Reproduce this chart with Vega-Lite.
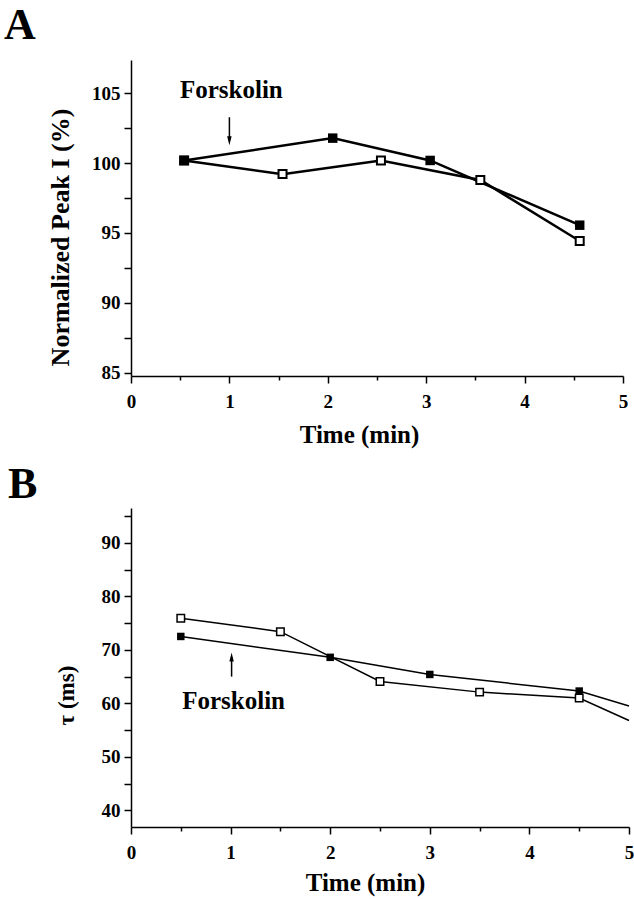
{
  "$schema": "https://vega.github.io/schema/vega-lite/v6.json",
  "padding": {"left": 4, "top": 4, "right": 5, "bottom": 5},
  "background": "white",
  "spacing": 16,
  "config": {
    "view": {"stroke": null},
    "font": "Liberation Serif",
    "axis": {
      "domainColor": "black", "domainWidth": 1.5, "tickColor": "black", "tickWidth": 1.5, "grid": false,
      "labelFont": "Liberation Serif", "labelFontWeight": "bold", "labelColor": "black", "labelFontSize": 19,
      "titleFont": "Liberation Serif", "titleFontWeight": "bold", "titleColor": "black",
      "labelOverlap": false, "labelFlush": false
    },
    "title": {"font": "Liberation Serif", "fontWeight": "bold", "color": "black", "anchor": "start", "frame": "group"}
  },
  "datasets": {
    "main": [
      {"panel": "A", "series": "a", "t": 0.54, "v": 100.2},
      {"panel": "A", "series": "a", "t": 2.05, "v": 101.8},
      {"panel": "A", "series": "a", "t": 3.04, "v": 100.2},
      {"panel": "A", "series": "a", "t": 4.56, "v": 95.56},
      {"panel": "A", "series": "b", "t": 0.54, "v": 100.2},
      {"panel": "A", "series": "b", "t": 1.54, "v": 99.22},
      {"panel": "A", "series": "b", "t": 2.54, "v": 100.2},
      {"panel": "A", "series": "b", "t": 3.55, "v": 98.8},
      {"panel": "A", "series": "b", "t": 4.56, "v": 94.43},
      {"panel": "B", "series": "a", "t": 0.5, "v": 72.5},
      {"panel": "B", "series": "a", "t": 2.0, "v": 68.6},
      {"panel": "B", "series": "a", "t": 3.0, "v": 65.4},
      {"panel": "B", "series": "a", "t": 4.5, "v": 62.3},
      {"panel": "B", "series": "a", "t": 5.0, "v": 59.5},
      {"panel": "B", "series": "b", "t": 0.5, "v": 75.9},
      {"panel": "B", "series": "b", "t": 1.5, "v": 73.4},
      {"panel": "B", "series": "b", "t": 2.5, "v": 64.1},
      {"panel": "B", "series": "b", "t": 3.5, "v": 62.1},
      {"panel": "B", "series": "b", "t": 4.5, "v": 61.0},
      {"panel": "B", "series": "b", "t": 5.0, "v": 56.8}
    ],
    "arrows": [
      {"panel": "A", "t": 1.0, "v": 103.3, "v2": 101.62},
      {"panel": "B", "t": 1.01, "v": 65.0, "v2": 68.66}
    ],
    "labels": [
      {"panel": "A", "t": 1.02, "v": 104.68, "label": "Forskolin"},
      {"panel": "B", "t": 1.03, "v": 59.0, "label": "Forskolin"}
    ]
  },
  "vconcat": [
    {
      "title": {"text": "A", "fontSize": 44, "dx": -127, "dy": 50, "baseline": "alphabetic", "offset": 27},
      "width": 492,
      "height": 316,
      "encoding": {
        "x": {
          "field": "t", "type": "quantitative",
          "scale": {"domain": [0, 5], "nice": false, "zero": false},
          "axis": {
            "values": [0, 0.5, 1, 1.5, 2, 2.5, 3, 3.5, 4, 4.5, 5],
            "labelExpr": "datum.value % 1 === 0 ? format(datum.value, 'd') : ''",
            "tickSize": {"condition": {"test": "datum.value % 1 !== 0", "value": 4}, "value": 7},
            "labelPadding": 9,
            "title": "Time (min)", "titleFontSize": 25, "titleX": 228, "titleY": 66,
            "titleBaseline": "alphabetic", "titleAlign": "center"
          }
        },
        "y": {
          "field": "v", "type": "quantitative",
          "scale": {"domain": [84.75, 107.4], "nice": false, "zero": false},
          "axis": {
            "values": [85, 87.5, 90, 92.5, 95, 97.5, 100, 102.5, 105],
            "labelExpr": "datum.value % 5 === 0 ? format(datum.value, 'd') : ''",
            "tickSize": 7, "labelPadding": 4,
            "title": "Normalized Peak I (%)", "titleFontSize": 26, "titleX": -63, "titleY": 177,
            "titleAngle": -90, "titleBaseline": "alphabetic", "titleAlign": "center"
          }
        }
      },
      "layer": [
        {
          "data": {"name": "main"},
          "transform": [{"filter": "datum.panel === 'A'"}],
          "mark": {"type": "line", "color": "black", "strokeWidth": 2.5},
          "encoding": {"detail": {"field": "series"}}
        },
        {
          "data": {"name": "main"},
          "transform": [{"filter": "datum.panel === 'A' && datum.series === 'b'"}],
          "mark": {"type": "point", "shape": "square", "filled": true, "fill": "white", "stroke": "black", "strokeWidth": 2, "size": 64, "opacity": 1}
        },
        {
          "data": {"name": "main"},
          "transform": [{"filter": "datum.panel === 'A' && datum.series === 'a'"}],
          "mark": {"type": "square", "color": "black", "size": 90, "opacity": 1}
        },
        {
          "data": {"name": "arrows"},
          "transform": [{"filter": "datum.panel === 'A'"}],
          "mark": {"type": "rule", "color": "black", "strokeWidth": 1.5},
          "encoding": {"y2": {"field": "v2"}}
        },
        {
          "data": {"name": "arrows"},
          "transform": [{"filter": "datum.panel === 'A'"}],
          "mark": {"type": "point", "shape": "M-0.5,-1L0.5,-1L0,1Z", "filled": true, "color": "black", "size": 81, "opacity": 1},
          "encoding": {"y": {"field": "v2", "type": "quantitative"}}
        },
        {
          "data": {"name": "labels"},
          "transform": [{"filter": "datum.panel === 'A'"}],
          "mark": {"type": "text", "font": "Liberation Serif", "fontWeight": "bold", "fontSize": 25, "color": "black", "align": "center", "baseline": "alphabetic"},
          "encoding": {"text": {"field": "label"}}
        }
      ]
    },
    {
      "title": {"text": "B", "fontSize": 44, "dx": -123, "dy": 46, "baseline": "alphabetic", "offset": 11},
      "width": 498,
      "height": 319,
      "encoding": {
        "x": {
          "field": "t", "type": "quantitative",
          "scale": {"domain": [0, 5], "nice": false, "zero": false},
          "axis": {
            "values": [0, 0.5, 1, 1.5, 2, 2.5, 3, 3.5, 4, 4.5, 5],
            "labelExpr": "datum.value % 1 === 0 ? format(datum.value, 'd') : ''",
            "tickSize": {"condition": {"test": "datum.value % 1 !== 0", "value": 4}, "value": 7},
            "labelPadding": 9,
            "title": "Time (min)", "titleFontSize": 25, "titleX": 234, "titleY": 63,
            "titleBaseline": "alphabetic", "titleAlign": "center"
          }
        },
        "y": {
          "field": "v", "type": "quantitative",
          "scale": {"domain": [36.9, 96.5], "nice": false, "zero": false},
          "axis": {
            "values": [40, 45, 50, 55, 60, 65, 70, 75, 80, 85, 90, 95],
            "labelExpr": "datum.value % 10 === 0 ? format(datum.value, 'd') : ''",
            "tickSize": 7, "labelPadding": 4,
            "title": "τ (ms)", "titleFontSize": 23, "titleX": -58, "titleY": 187,
            "titleAngle": -90, "titleBaseline": "alphabetic", "titleAlign": "center"
          }
        }
      },
      "layer": [
        {
          "data": {"name": "main"},
          "transform": [{"filter": "datum.panel === 'B'"}],
          "mark": {"type": "line", "color": "black", "strokeWidth": 1.5},
          "encoding": {"detail": {"field": "series"}}
        },
        {
          "data": {"name": "main"},
          "transform": [{"filter": "datum.panel === 'B' && datum.series === 'b' && datum.t < 5"}],
          "mark": {"type": "point", "shape": "square", "filled": true, "fill": "white", "stroke": "black", "strokeWidth": 1.5, "size": 56, "opacity": 1}
        },
        {
          "data": {"name": "main"},
          "transform": [{"filter": "datum.panel === 'B' && datum.series === 'a' && datum.t < 5"}],
          "mark": {"type": "square", "color": "black", "size": 56, "opacity": 1}
        },
        {
          "data": {"name": "arrows"},
          "transform": [{"filter": "datum.panel === 'B'"}],
          "mark": {"type": "rule", "color": "black", "strokeWidth": 1.5},
          "encoding": {"y2": {"field": "v2"}}
        },
        {
          "data": {"name": "arrows"},
          "transform": [{"filter": "datum.panel === 'B'"}],
          "mark": {"type": "point", "shape": "M-0.5,1L0.5,1L0,-1Z", "filled": true, "color": "black", "size": 81, "opacity": 1},
          "encoding": {"y": {"field": "v2", "type": "quantitative"}}
        },
        {
          "data": {"name": "labels"},
          "transform": [{"filter": "datum.panel === 'B'"}],
          "mark": {"type": "text", "font": "Liberation Serif", "fontWeight": "bold", "fontSize": 25, "color": "black", "align": "center", "baseline": "alphabetic"},
          "encoding": {"text": {"field": "label"}}
        }
      ]
    }
  ]
}
